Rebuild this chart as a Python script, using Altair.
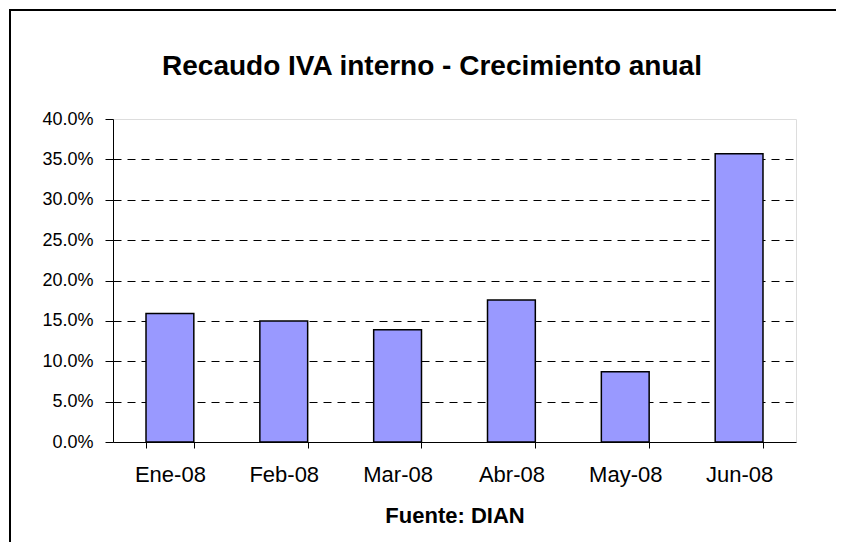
import altair as alt
import pandas as pd

months = ["Ene-08", "Feb-08", "Mar-08", "Abr-08", "May-08", "Jun-08"]
growth = [0.159, 0.150, 0.139, 0.176, 0.087, 0.357]
y_ticks = [0.0, 0.05, 0.10, 0.15, 0.20, 0.25, 0.30, 0.35, 0.40]
title_text = "Recaudo IVA interno - Crecimiento anual"
source_text = "Fuente: DIAN"

df = pd.DataFrame({"mes": months, "crecimiento": growth})

W, H = 683, 323
PAD_R, PAD_B = 40, 100
FONT = "Liberation Sans"
one = alt.Data(values=[{"a": 1}])

frame_top = alt.Chart(one).mark_rule(color="black", strokeWidth=2, strokeCap="butt").encode(
    x=alt.value(-104), x2=alt.value(W + PAD_R), y=alt.value(-109)
)
frame_left = alt.Chart(one).mark_rule(color="black", strokeWidth=2, strokeCap="butt").encode(
    x=alt.value(-103), y=alt.value(-110), y2=alt.value(H + PAD_B)
)

title = alt.Chart(one).mark_text(
    text=title_text, font=FONT, fontSize=28, fontWeight="bold",
    color="black", align="center", baseline="alphabetic"
).encode(x=alt.value(319), y=alt.value(-44))

source = alt.Chart(one).mark_text(
    text=source_text, font=FONT, fontSize=22, fontWeight="bold",
    color="black", align="center", baseline="alphabetic"
).encode(x=alt.value(342), y=alt.value(404))

bars = alt.Chart(df).mark_bar(
    color="#9999FF", stroke="black", strokeWidth=1.5
).encode(
    x=alt.X("mes:N", sort=months,
            scale=alt.Scale(paddingInner=0.58, paddingOuter=0.29),
            axis=alt.Axis(title=None, labelAngle=0, tickBand="extent",
                          labelFontSize=22, labelFont=FONT, labelColor="black",
                          labelPadding=16, tickSize=6, tickColor="black",
                          domainColor="black", grid=False)),
    y=alt.Y("crecimiento:Q",
            scale=alt.Scale(domain=[0, 0.4], nice=False),
            axis=alt.Axis(title=None, values=y_ticks, format=".1%",
                          labelFontSize=18, labelFont=FONT, labelColor="black",
                          labelPadding=12, tickSize=8, tickColor="black",
                          domainColor="black", grid=True, gridColor="black",
                          gridDash=[8, 6], gridWidth=1,
                          gridOpacity={"condition": {"test": "datum.value > 0.39 || datum.value < 0.01", "value": 0}, "value": 1})),
)

chart = alt.layer(frame_top, frame_left, title, source, bars).properties(
    width=W, height=H,
    autosize=alt.AutoSizeParams(type="none"),
    padding={"left": 105, "top": 111, "right": PAD_R, "bottom": PAD_B},
).configure_view(
    stroke="#808080", strokeWidth=1.5
).configure(background="white")

chart.save("out.html", embed_options={"renderer": "svg", "actions": False})
